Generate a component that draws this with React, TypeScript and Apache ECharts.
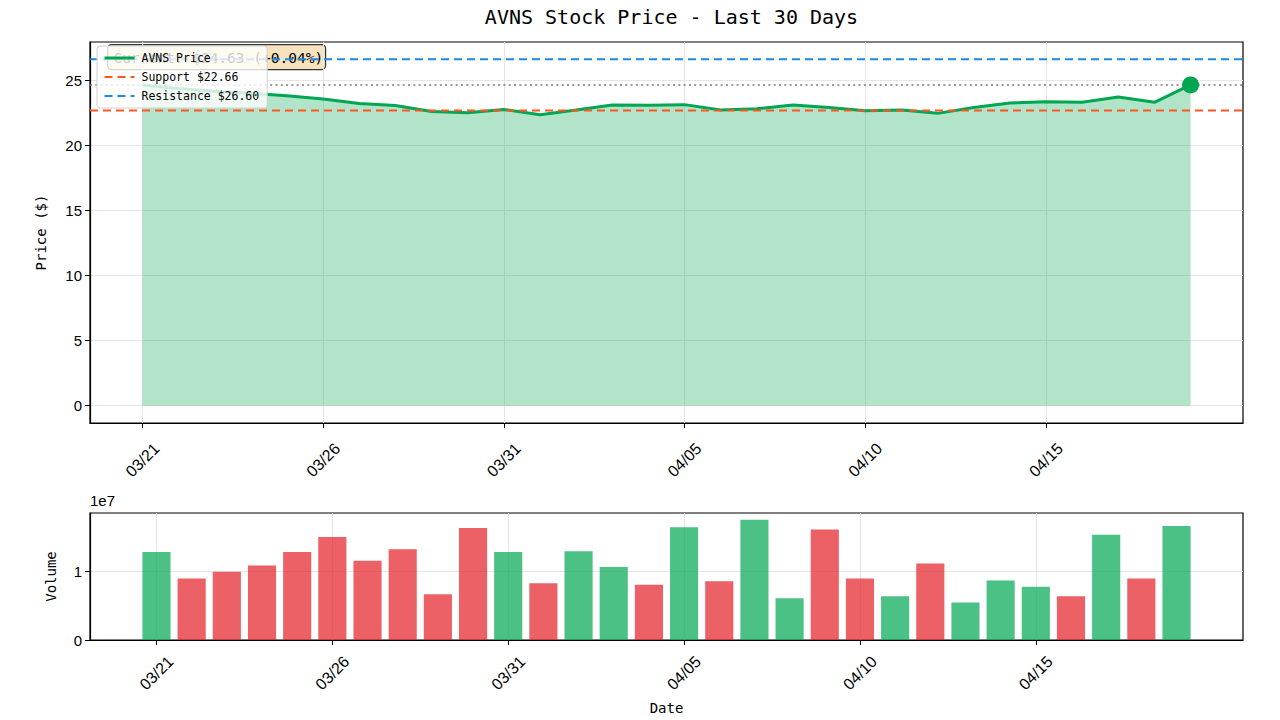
import React, { useEffect, useRef } from "react";
import * as echarts from "echarts";

const TITLE = "AVNS Stock Price - Last 30 Days";
const DATES = [
  "03/21", "03/22", "03/23", "03/24", "03/25", "03/26", "03/27", "03/28", "03/29", "03/30",
  "03/31", "04/01", "04/02", "04/03", "04/04", "04/05", "04/06", "04/07", "04/08", "04/09",
  "04/10", "04/11", "04/12", "04/13", "04/14", "04/15", "04/16", "04/17", "04/18", "04/19",
];
const PRICES = [
  24.62, 24.35, 24.15, 24.0, 23.8, 23.55, 23.2, 23.05, 22.6, 22.5,
  22.75, 22.35, 22.7, 23.1, 23.08, 23.12, 22.7, 22.8, 23.1, 22.9,
  22.65, 22.7, 22.45, 22.9, 23.25, 23.35, 23.3, 23.7, 23.3, 24.63,
];
const VOLUMES = [
  12.9e6, 9.0e6, 10.0e6, 10.9e6, 12.9e6, 15.1e6, 11.6e6, 13.3e6, 6.7e6, 16.4e6,
  12.9e6, 8.3e6, 13.0e6, 10.7e6, 8.1e6, 16.5e6, 8.6e6, 17.6e6, 6.1e6, 16.2e6,
  9.0e6, 6.4e6, 11.2e6, 5.5e6, 8.7e6, 7.8e6, 6.4e6, 15.4e6, 9.0e6, 16.7e6,
];
const SUPPORT = 22.66;
const RESISTANCE = 26.6;
const CURRENT = 24.63;
const CHANGE_PCT = 0.04;
const DATE_TICKS = [0, 5, 10, 15, 20, 25];
const PRICE_TICKS = [0, 5, 10, 15, 20, 25];
const VOLUME_TICKS = [0, 1e7];

const X_MIN = -1.45;
const X_MAX = 30.45;
const Y_MIN = -1.33;
const Y_MAX = 27.93;
const VX_MIN = -1.89;
const VX_MAX = 30.89;
const VY_MAX = 1.86e7;

const GREEN = "#00A651";
const MONO = "'DejaVu Sans Mono', monospace";
const SANS = "'Liberation Sans', Arial, sans-serif";

const PLOT_LEFT = 90;
const PLOT_RIGHT = 37;
const PLOT_W = 1280 - PLOT_LEFT - PLOT_RIGHT;

export default function App() {
  const ref = useRef<HTMLDivElement>(null);

  useEffect(() => {
    if (!ref.current) return;
    const chart = echarts.init(ref.current, null, { renderer: "svg" });
    const gridLine = { show: true, lineStyle: { color: "#e6e6e6", width: 1 } };
    const axisLine = { show: true, onZero: false, lineStyle: { color: "#000", width: 1.2 } };
    const tick = (vals: number[]) => ({
      show: true,
      customValues: vals,
      length: 5,
      lineStyle: { color: "#000", width: 1 },
    });
    const dateLabel = {
      customValues: DATE_TICKS,
      formatter: (v: number) => DATES[Math.round(v)] ?? "",
      rotate: 45,
      align: "center",
      verticalAlign: "middle",
      margin: 37,
      fontFamily: SANS,
      fontSize: 16,
      color: "#000",
    };
    const barWidth = (0.8 * PLOT_W) / (VX_MAX - VX_MIN);
    const supportName = `Support $${SUPPORT.toFixed(2)}`;
    const resistanceName = `Resistance $${RESISTANCE.toFixed(2)}`;

    chart.setOption({
      animation: false,
      backgroundColor: "#fff",
      title: {
        text: TITLE,
        left: PLOT_LEFT + PLOT_W / 2,
        textAlign: "center",
        top: 2,
        textStyle: { fontFamily: MONO, fontSize: 20, fontWeight: "normal", color: "#000" },
      },
      legend: {
        orient: "vertical",
        left: 97,
        top: 46,
        data: [
          { name: "AVNS Price", lineStyle: { width: 3 } },
          { name: supportName, lineStyle: { width: 2 } },
          { name: resistanceName, lineStyle: { width: 2 } },
        ],
        itemWidth: 30,
        itemHeight: 12,
        itemGap: 7,
        padding: [6, 8, 6, 6],
        backgroundColor: "rgba(255,255,255,0.8)",
        borderColor: "#d0d0d0",
        borderWidth: 1,
        borderRadius: 3,
        itemStyle: { opacity: 0 },
        textStyle: { fontFamily: MONO, fontSize: 11.5, color: "#000", padding: [0, 0, 0, 2] },
        z: 10,
      },
      grid: [
        { left: PLOT_LEFT, right: PLOT_RIGHT, top: 42, height: 381, show: true, borderColor: "#000", borderWidth: 1.2 },
        { left: PLOT_LEFT, right: PLOT_RIGHT, top: 513, height: 127, show: true, borderColor: "#000", borderWidth: 1.2 },
      ],
      xAxis: [
        {
          type: "value",
          gridIndex: 0,
          min: X_MIN,
          max: X_MAX,
          axisLine,
          axisTick: tick(DATE_TICKS),
          axisLabel: dateLabel,
          splitLine: gridLine,
        },
        {
          type: "value",
          gridIndex: 1,
          min: VX_MIN,
          max: VX_MAX,
          axisLine,
          axisTick: tick(DATE_TICKS),
          axisLabel: { ...dateLabel, margin: 33 },
          splitLine: gridLine,
          name: "Date",
          nameLocation: "middle",
          nameGap: 61,
          nameTextStyle: { fontFamily: MONO, fontSize: 14, color: "#000" },
        },
      ],
      yAxis: [
        {
          type: "value",
          gridIndex: 0,
          min: Y_MIN,
          max: Y_MAX,
          axisLine,
          axisTick: tick(PRICE_TICKS),
          axisLabel: { customValues: PRICE_TICKS, fontFamily: SANS, fontSize: 15, color: "#000", margin: 8 },
          splitLine: gridLine,
          name: "Price ($)",
          nameLocation: "middle",
          nameGap: 42,
          nameTextStyle: { fontFamily: MONO, fontSize: 14, color: "#000" },
        },
        {
          type: "value",
          gridIndex: 1,
          min: 0,
          max: VY_MAX,
          axisLine,
          axisTick: tick(VOLUME_TICKS),
          axisLabel: {
            customValues: VOLUME_TICKS,
            formatter: (v: number) => String(v / 1e7),
            fontFamily: SANS,
            fontSize: 15,
            color: "#000",
            margin: 8,
          },
          splitLine: gridLine,
          name: "Volume",
          nameLocation: "middle",
          nameGap: 32,
          nameTextStyle: { fontFamily: MONO, fontSize: 14, color: "#000" },
        },
      ],
      graphic: [
        {
          type: "text",
          left: 90,
          top: 493,
          style: { text: "1e7", font: `15px ${SANS}`, fill: "#000" },
        },
        {
          type: "group",
          left: 107,
          top: 44,
          z: 5,
          children: [
            {
              type: "rect",
              shape: { x: 0, y: 0, width: 218, height: 25, r: 4 },
              style: { fill: "rgba(245,222,179,0.85)", stroke: "#333", lineWidth: 1.2 },
            },
            {
              type: "text",
              x: 6,
              y: 13,
              style: {
                text: `Current: $${CURRENT.toFixed(2)} (${CHANGE_PCT >= 0 ? "+" : ""}${CHANGE_PCT.toFixed(2)}%)`,
                font: `14.5px ${MONO}`,
                fill: "#000",
                verticalAlign: "middle",
              },
            },
          ],
        },
      ],
      series: [
        {
          name: "AVNS Price",
          type: "line",
          xAxisIndex: 0,
          yAxisIndex: 0,
          data: PRICES.map((p, i) => [i, p]),
          symbol: "none",
          lineStyle: { color: GREEN, width: 3 },
          itemStyle: { color: GREEN },
          areaStyle: { color: "rgba(0,166,81,0.3)", opacity: 1, origin: "auto" },
          z: 3,
        },
        {
          name: supportName,
          type: "line",
          xAxisIndex: 0,
          yAxisIndex: 0,
          data: [[X_MIN, SUPPORT], [X_MAX, SUPPORT]],
          symbol: "none",
          lineStyle: { color: "#FF5722", width: 2, type: [8, 5] },
          itemStyle: { color: "#FF5722" },
          z: 4,
        },
        {
          name: resistanceName,
          type: "line",
          xAxisIndex: 0,
          yAxisIndex: 0,
          data: [[X_MIN, RESISTANCE], [X_MAX, RESISTANCE]],
          symbol: "none",
          lineStyle: { color: "#1E88E5", width: 2, type: [8, 5] },
          itemStyle: { color: "#1E88E5" },
          z: 4,
        },
        {
          name: "current",
          type: "line",
          xAxisIndex: 0,
          yAxisIndex: 0,
          data: [[X_MIN, CURRENT], [X_MAX, CURRENT]],
          symbol: "none",
          lineStyle: { color: "rgba(128,128,128,0.8)", width: 2, type: [2, 3.3] },
          z: 2,
        },
        {
          name: "last",
          type: "scatter",
          xAxisIndex: 0,
          yAxisIndex: 0,
          data: [[PRICES.length - 1, PRICES[PRICES.length - 1]]],
          symbolSize: 17,
          itemStyle: { color: GREEN, opacity: 1 },
          z: 6,
        },
        {
          name: "Volume",
          type: "bar",
          xAxisIndex: 1,
          yAxisIndex: 1,
          barWidth,
          data: VOLUMES.map((v, i) => ({
            value: [i, v],
            itemStyle: {
              color: i === 0 || PRICES[i] >= PRICES[i - 1] ? "rgba(0,166,81,0.7)" : "rgba(227,30,36,0.7)",
            },
          })),
        },
      ],
    });
    return () => chart.dispose();
  }, []);

  return (
    <div
      ref={ref}
      style={{ position: "absolute", left: 0, top: 0, width: 1280, height: 720, background: "#fff" }}
    />
  );
}
